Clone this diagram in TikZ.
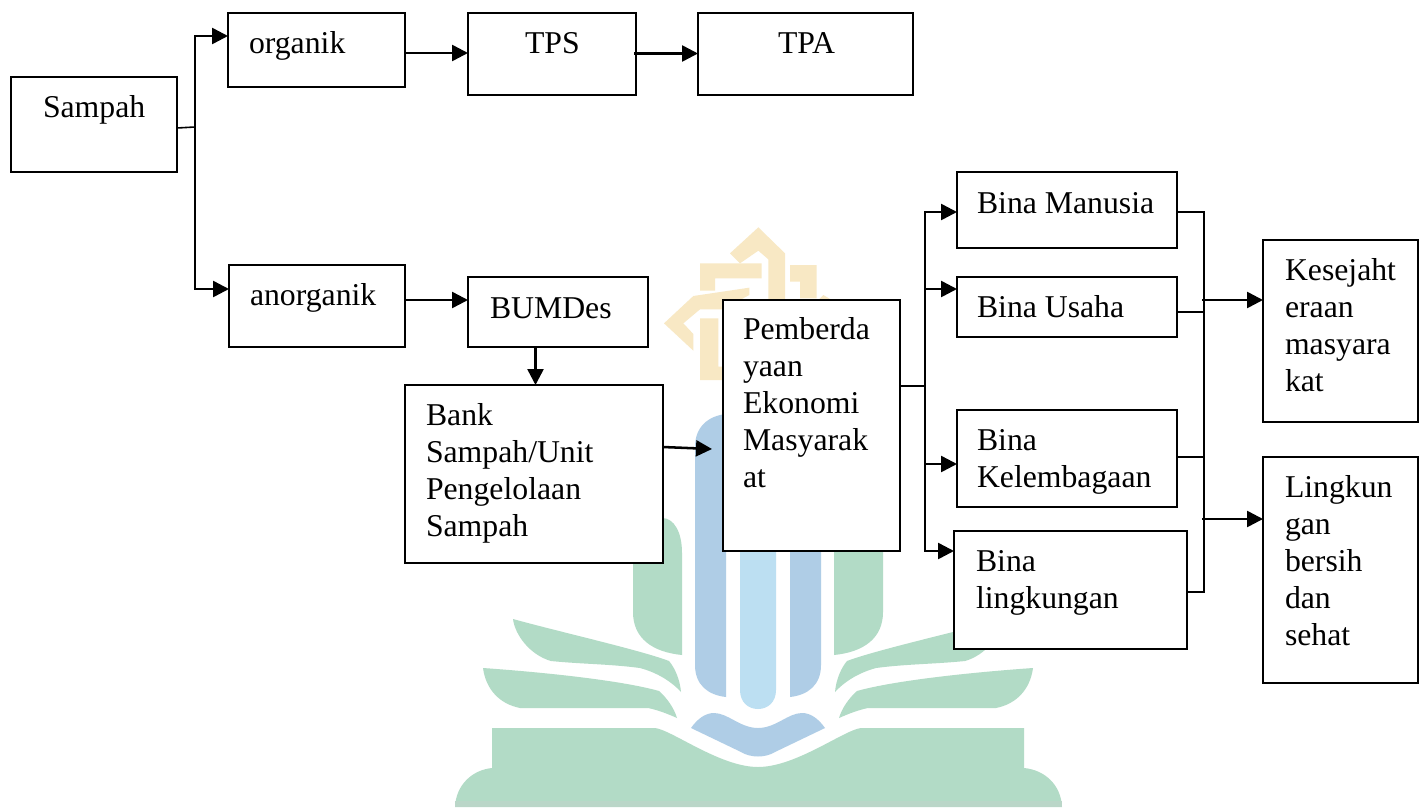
\documentclass[tikz,border=0pt]{standalone}
\usepackage{fontspec}
\setmainfont{Liberation Serif}
\usetikzlibrary{arrows.meta}
\definecolor{wgreen}{HTML}{B2DBC6}
\definecolor{wgreenD}{HTML}{BAD6C8}
\definecolor{wblue}{HTML}{AFCDE6}
\definecolor{wlight}{HTML}{BCDFF2}
\definecolor{wgold}{HTML}{F8E8C4}
\tikzset{
  boxn/.style={draw=black,fill=white,line width=1.5pt,inner sep=0pt,outer sep=0pt,anchor=north west},
  lbl/.style={anchor=base west,inner sep=0pt,outer sep=0pt,text=black,font=\fontsize{23.8}{27.75}\selectfont},
  arr/.style={line width=1.9pt,-{Triangle[length=12pt,width=12pt]}},
  wire/.style={line width=1.6pt},
  thinwire/.style={line width=1.2pt}
}
\newcommand\bx[8]{%
  \node[boxn,minimum width={(#4-#2)*0.75pt},minimum height={(#5-#3)*0.75pt}] (#1) at (#2,#3) {};
  \node[lbl] (#1t) at (#6,#7) {\begin{tabular}[t]{@{}l@{}}#8\end{tabular}};
}
\newcommand\wmside{%
  \fill[wgreen] (682,655) -- (682,553) .. controls (682,532) and (674,518) .. (662,518) -- (633,518) -- (633,612) .. controls (633,638) and (652,652) .. (682,655) -- cycle;
  \fill[wblue] (726,414) .. controls (708,416) and (695,427) .. (695,447) -- (695,665) .. controls (695,685) and (708,695) .. (726,697) -- cycle;
  \fill[wgreen] (513,619) .. controls (560,632) and (640,650) .. (669,661) .. controls (675,668) and (680,680) .. (681,692) .. controls (670,680) and (655,672) .. (640,668) .. controls (610,664) and (580,664) .. (551,661) .. controls (530,655) and (515,635) .. (513,619) -- cycle;
  \fill[wgreen] (483,668) .. controls (540,672) and (620,680) .. (659,691) .. controls (667,698) and (674,708) .. (677,718) .. controls (668,714) and (658,710) .. (648,708) -- (520,708) .. controls (500,704) and (486,690) .. (483,668) -- cycle;
}
\begin{document}
\begin{tikzpicture}[x=0.75pt,y=-0.75pt]
\useasboundingbox (0,0) rectangle (1426,807);
\fill[white] (0,0) rectangle (1426,807);
% watermark
\begin{scope}[shift={(650,220)},x=0.25pt,y=-0.25pt]
  \fill[wgold] (325,22) -- (405,100) -- (405,245) -- (355,245) -- (355,118) -- (325,92) -- (270,130) -- (240,100) -- cycle;
  \fill[wgold] (150,130) -- (335,130) -- (335,175) -- (195,175) -- (195,212) -- (150,212) -- cycle;
  \fill[wgold] (420,135) -- (500,135) -- (500,235) -- (450,235) -- (450,185) -- (420,185) -- cycle;
  \fill[wgold] (298,203) -- (130,228) -- (42,310) -- (130,392) -- (130,342) -- (100,310) -- (150,268) -- (218,268) -- (298,225) -- cycle;
  \fill[wgold] (150,295) -- (205,295) -- (205,440) -- (218,440) -- (218,480) -- (150,480) -- cycle;
  \fill[wgold] (505,240) -- (520,225) -- (545,240) -- cycle;
\end{scope}
\wmside
\begin{scope}[xshift={1516*0.75pt},xscale=-1]
\wmside
\end{scope}
\fill[wlight] (740,420) -- (740,690) .. controls (740,702) and (748,709) .. (758,709) .. controls (768,709) and (776,702) .. (776,690) -- (776,420) -- cycle;
\fill[wblue] (691,728) .. controls (698,718) and (706,713) .. (714,713) .. controls (728,713) and (740,728) .. (758,728) .. controls (776,728) and (788,713) .. (802,713) .. controls (810,713) and (818,718) .. (825,728) -- (775,752) .. controls (765,758) and (751,758) .. (741,752) -- cycle;
\fill[wgreen] (492,728) -- (655,728) .. controls (672,730) and (720,767) .. (758,767) .. controls (796,767) and (844,730) .. (861,728) -- (1024,728) -- (1024,768) .. controls (1045,770) and (1061,785) .. (1062,807) -- (455,807) .. controls (456,785) and (472,770) .. (492,768) -- cycle;
\fill[wgreenD] (455,801) rectangle (1062,807);
% boxes
\bx{sampah}{11}{77}{177}{172}{43}{117}{Sampah}
\bx{organik}{228}{13}{405}{87}{249}{53}{organik}
\bx{tps}{468}{13}{636}{95}{525}{53}{TPS}
\bx{tpa}{698}{13}{913}{95}{778}{53}{TPA}
\bx{anorganik}{229}{265}{405}{347}{250}{305}{anorganik}
\bx{bumdes}{468}{277}{648}{347}{490}{318}{BUMDes}
\bx{bank}{405}{385}{663}{563}{426}{425}{Bank\\Sampah/Unit\\Pengelolaan\\Sampah}
\bx{pember}{723}{300}{900}{551}{743}{339}{Pemberda\\yaan\\Ekonomi\\Masyarak\\at}
\bx{manusia}{957}{172}{1177}{248}{977}{213}{Bina Manusia}
\bx{usaha}{957}{277}{1177}{337}{977}{317}{Bina Usaha}
\bx{lembaga}{957}{410}{1177}{507}{977}{450}{Bina\\Kelembagaan}
\bx{lingk}{954}{531}{1187}{649}{976}{571}{Bina\\lingkungan}
\bx{sejahtera}{1263}{240}{1418}{422}{1285}{280}{Kesejaht\\eraan\\masyara\\kat}
\bx{bersih}{1263}{457}{1418}{683}{1285}{497}{Lingkun\\gan\\bersih\\dan\\sehat}
% junction coordinates
\coordinate (a0) at (195,127);
\coordinate (a1) at (195,36);
\coordinate (a2) at (195,289);
\coordinate (b0) at (925,386);
\coordinate (b1) at (925,212);
\coordinate (b2) at (925,289);
\coordinate (b3) at (925,464);
\coordinate (b4) at (925,551);
\coordinate (c1) at (1204,212);
\coordinate (c2) at (1204,312);
\coordinate (c3) at (1204,457);
\coordinate (c4) at (1204,592);
\coordinate (d1) at (1202,300);
\coordinate (d2) at (1202,519);
\coordinate (e1) at (663,447);
\coordinate (e2) at (712,449);
\coordinate (f1) at (405,53);
\coordinate (f2) at (634,53.5);
\coordinate (f3) at (405,300);
\coordinate (f4) at (535.5,347);
% connectors
\draw[thinwire] (sampah.east |- 0,128) -- (a0);
\draw[wire,line cap=rect] (a1) -- (a2);
\draw[arr] (a1) -- (organik.west |- a1);
\draw[arr] (a2) -- (anorganik.west |- a2);
\draw[arr] (f1) -- (tps.west |- f1);
\draw[arr] (f2) -- (tpa.west |- f2);
\draw[arr] (f3) -- (bumdes.west |- f3);
\draw[arr] (f4) -- (f4 |- bank.north);
\draw[arr] (e1) -- (e2);
\draw[thinwire] (pember.east |- b0) -- (b0);
\draw[wire,line cap=rect] (b1) -- (b4);
\draw[arr] (b1) -- (manusia.west |- b1);
\draw[arr] (b2) -- (usaha.west |- b2);
\draw[arr] (b3) -- (lembaga.west |- b3);
\draw[arr] (b4) -- (lingk.west |- b4);
\draw[wire] (manusia.east |- c1) -- (c1);
\draw[thinwire] (usaha.east |- c2) -- (c2);
\draw[thinwire] (lembaga.east |- c3) -- (c3);
\draw[thinwire] (lingk.east |- c4) -- (c4);
\draw[wire,line cap=rect] (c1) -- (c4);
\draw[arr] (d1) -- (sejahtera.west |- d1);
\draw[arr] (d2) -- (bersih.west |- d2);
\end{tikzpicture}
\end{document}
